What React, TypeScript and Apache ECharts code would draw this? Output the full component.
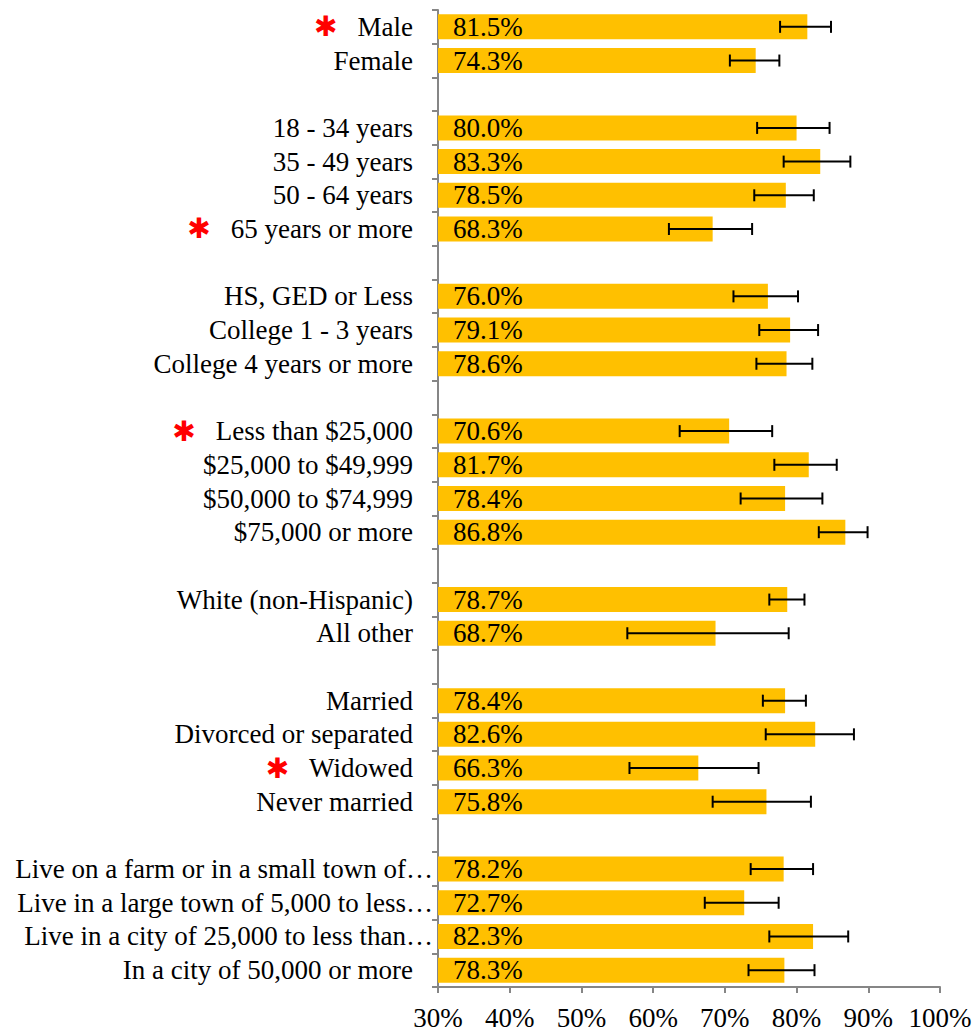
import React, { useEffect, useRef } from "react";
import * as echarts from "echarts";

const categories: string[] = [
  "Male", "Female", " ",
  "18 - 34 years", "35 - 49 years", "50 - 64 years", "65 years or more", "  ",
  "HS, GED or Less", "College 1 - 3 years", "College 4 years or more", "   ",
  "Less than $25,000", "$25,000 to $49,999", "$50,000 to $74,999", "$75,000 or more", "    ",
  "White (non-Hispanic)", "All other", "     ",
  "Married", "Divorced or separated", "Widowed", "Never married", "      ",
  "Live on a farm or in a small town of…",
  "Live in a large town of 5,000 to less…",
  "Live in a city of 25,000 to less than…",
  "In a city of 50,000 or more",
];

const values: (number | null)[] = [
  81.5, 74.3, null,
  80.0, 83.3, 78.5, 68.3, null,
  76.0, 79.1, 78.6, null,
  70.6, 81.7, 78.4, 86.8, null,
  78.7, 68.7, null,
  78.4, 82.6, 66.3, 75.8, null,
  78.2, 72.7, 82.3, 78.3,
];

const errLow: (number | null)[] = [
  77.7, 70.7, null,
  74.5, 78.2, 74.1, 62.2, null,
  71.2, 74.8, 74.4, null,
  63.7, 76.9, 72.2, 83.1, null,
  76.2, 56.4, null,
  75.3, 75.7, 56.7, 68.3, null,
  73.6, 67.2, 76.2, 73.3,
];

const errHigh: (number | null)[] = [
  84.8, 77.6, null,
  84.6, 87.5, 82.4, 73.8, null,
  80.2, 83.0, 82.2, null,
  76.6, 85.6, 83.6, 89.9, null,
  81.1, 78.9, null,
  81.3, 88.0, 74.7, 82.0, null,
  82.3, 77.5, 87.2, 82.5,
];

const significant: string[] = ["Male", "65 years or more", "Less than $25,000", "Widowed"];

const xTicks = { min: 30, max: 100, step: 10 };

const FONT = "'Liberation Serif', 'Times New Roman', serif";
const FS = 27;

export default function App() {
  const ref = useRef<HTMLDivElement>(null);
  useEffect(() => {
    if (!ref.current) return;
    const chart = echarts.init(ref.current, undefined, { renderer: "svg" });
    const errData: number[][] = [];
    categories.forEach((_, i) => {
      const lo = errLow[i];
      const hi = errHigh[i];
      if (lo != null && hi != null) errData.push([i, lo, hi]);
    });
    const axisColor = "#868686";
    chart.setOption({
      animation: false,
      grid: {
        left: 438,
        right: 37,
        top: 10,
        bottom: 46,
        containLabel: false,
        outerBoundsMode: "none",
      },
      xAxis: {
        type: "value",
        min: xTicks.min,
        max: xTicks.max,
        interval: xTicks.step,
        splitLine: { show: false },
        axisLine: { show: true, lineStyle: { color: axisColor, width: 2 } },
        axisTick: { show: true, length: 6, lineStyle: { color: axisColor, width: 2 } },
        axisLabel: {
          formatter: "{value}%",
          fontFamily: FONT,
          fontSize: FS,
          color: "#000",
          margin: 17,
        },
      },
      yAxis: {
        type: "category",
        inverse: true,
        data: categories,
        axisLine: { show: true, lineStyle: { color: axisColor, width: 2 } },
        axisTick: { show: true, length: 6, interval: 0, lineStyle: { color: axisColor, width: 2 } },
        axisLabel: {
          interval: 0,
          margin: 5,
          fontFamily: FONT,
          fontSize: FS,
          color: "#000",
          formatter: (v: string) => {
            const name = v.trim();
            if (!name) return "";
            if (name.endsWith("…")) return `{long|${name}}`;
            return significant.includes(name)
              ? `{star|✱}{lbl|${name}}`
              : `{lbl|${name}}`;
          },
          rich: {
            lbl: {
              fontFamily: FONT,
              fontSize: FS,
              color: "#000",
              lineHeight: 30,
              padding: [0, 20, 0, 0],
              verticalAlign: "middle",
            },
            long: {
              fontFamily: FONT,
              fontSize: FS,
              color: "#000",
              lineHeight: 30,
              verticalAlign: "middle",
            },
            star: {
              fontFamily: "'DejaVu Sans', sans-serif",
              fontSize: 28,
              color: "#ff0000",
              lineHeight: 30,
              padding: [0, 20, 0, 0],
              verticalAlign: "middle",
            },
          },
        },
      },
      series: [
        {
          type: "bar",
          data: values.map((v) => (v == null ? "-" : v)),
          barWidth: 25,
          itemStyle: { color: "#FFC000" },
          label: {
            show: true,
            position: "insideLeft",
            distance: 15,
            fontFamily: FONT,
            fontSize: FS,
            color: "#000",
            formatter: (p: any) => `${Number(p.value).toFixed(1)}%`,
          },
          z: 2,
        },
        {
          type: "custom",
          data: errData,
          encode: { x: [1, 2], y: 0 },
          z: 3,
          renderItem: (params: any, api: any) => {
            const idx = api.value(0);
            const lo = api.coord([api.value(1), idx]);
            const hi = api.coord([api.value(2), idx]);
            const h = 6;
            const st = { stroke: "#000", lineWidth: 2 };
            return {
              type: "group",
              children: [
                { type: "line", shape: { x1: lo[0], y1: lo[1], x2: hi[0], y2: hi[1] }, style: st },
                { type: "line", shape: { x1: lo[0], y1: lo[1] - h, x2: lo[0], y2: lo[1] + h }, style: st },
                { type: "line", shape: { x1: hi[0], y1: hi[1] - h, x2: hi[0], y2: hi[1] + h }, style: st },
              ],
            };
          },
        },
      ],
    });
    return () => chart.dispose();
  }, []);
  return (
    <div
      ref={ref}
      style={{ position: "fixed", left: 0, top: 0, width: 977, height: 1033, background: "#fff" }}
    />
  );
}
